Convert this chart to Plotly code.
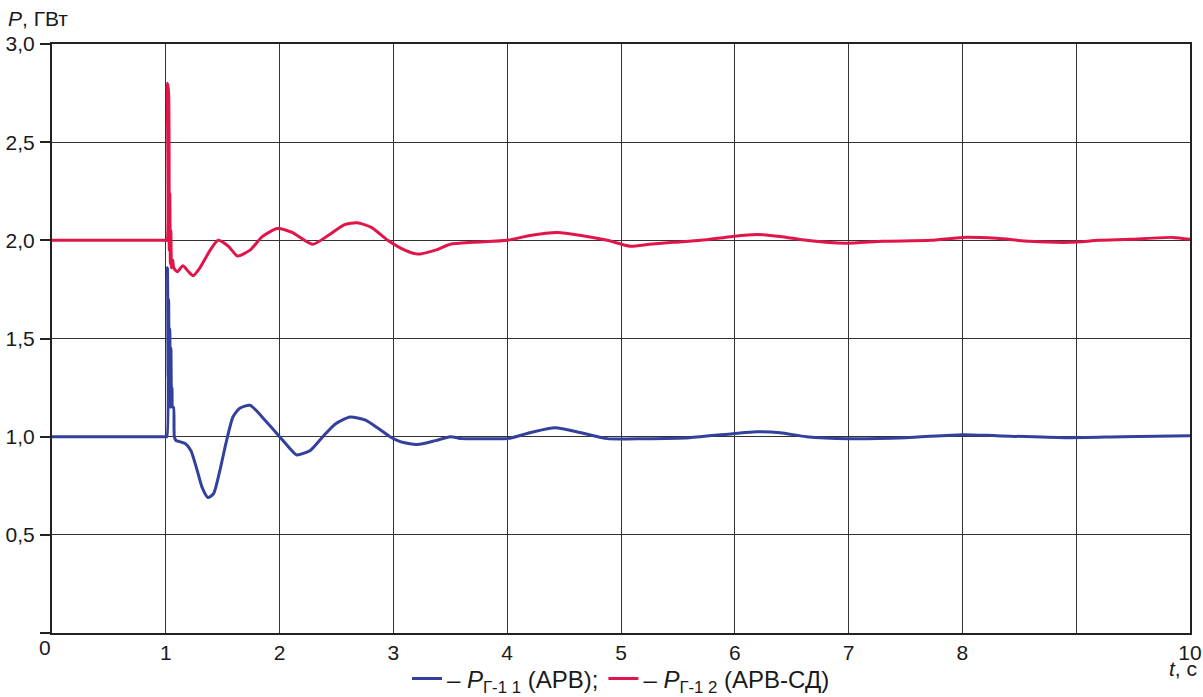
import plotly.graph_objects as go

# Time (s) and power (GW) for the two generators
t_blue = [0.0, 1.0, 1.01, 1.015, 1.02, 1.025, 1.03, 1.035, 1.04, 1.045, 1.05, 1.055, 1.06, 1.068,
          1.075, 1.09, 1.12, 1.17, 1.22, 1.27, 1.32, 1.37, 1.42, 1.476, 1.53, 1.59, 1.65, 1.74,
          1.87, 2.0, 2.09, 2.15, 2.27, 2.38, 2.49, 2.62, 2.75, 2.86, 2.97, 3.06, 3.21, 3.37, 3.5,
          3.6, 3.8, 4.0, 4.2, 4.42, 4.65, 4.88, 5.2, 5.6, 5.98, 6.19, 6.4, 6.63, 7.0, 7.5, 8.0,
          8.3, 8.9, 9.4, 10.0]
p_blue = [1.0, 1.0, 1.0, 1.86, 1.3, 1.7, 1.2, 1.55, 1.15, 1.45, 1.16, 1.25, 1.15, 1.15,
          1.0, 0.98, 0.975, 0.965, 0.93, 0.84, 0.74, 0.69, 0.71, 0.83, 0.97, 1.10, 1.145, 1.16,
          1.085, 1.0, 0.94, 0.907, 0.93, 1.0, 1.065, 1.10, 1.085, 1.045, 1.0, 0.975, 0.96, 0.98, 1.0,
          0.99, 0.99, 0.99, 1.02, 1.045, 1.02, 0.99, 0.99, 0.995, 1.015, 1.025, 1.02, 1.0, 0.99, 0.995, 1.01,
          1.005, 0.995, 1.0, 1.005]

t_red = [0.0, 1.0, 1.01, 1.015, 1.025, 1.03, 1.035, 1.04, 1.045, 1.05, 1.06, 1.07, 1.10, 1.15,
         1.2, 1.24, 1.30, 1.39, 1.46, 1.55, 1.63, 1.74, 1.85, 1.98, 2.11, 2.29, 2.44, 2.57, 2.68,
         2.81, 2.95, 3.10, 3.21, 3.37, 3.5, 3.7, 4.0, 4.2, 4.44, 4.65, 4.88, 5.08, 5.25,
         5.46, 5.7, 5.98, 6.19, 6.4, 6.63, 6.97, 7.3, 7.72, 8.0, 8.3, 8.59, 8.95, 9.2, 9.47, 9.85, 10.0]
p_red = [2.0, 2.0, 2.0, 2.80, 2.75, 1.95, 2.24, 1.88, 2.05, 1.86, 1.9, 1.86, 1.84, 1.87,
         1.84, 1.82, 1.86, 1.95, 2.0, 1.97, 1.92, 1.95, 2.02, 2.06, 2.04, 1.98, 2.03, 2.08, 2.09,
         2.065, 2.0, 1.95, 1.93, 1.95, 1.98, 1.99, 2.0, 2.025, 2.04, 2.025, 2.0, 1.97, 1.98,
         1.99, 2.0, 2.02, 2.03, 2.02, 2.0, 1.985, 1.995, 2.0, 2.015, 2.01, 1.995, 1.99, 2.0, 2.005, 2.015, 2.005]

x_tickvals = [0, 1, 2, 3, 4, 5, 6, 7, 8, 9, 10]
x_ticktext = ["", "1", "2", "3", "4", "5", "6", "7", "8", "", "10"]
y_tickvals = [0, 0.5, 1.0, 1.5, 2.0, 2.5, 3.0]
y_ticktext = ["", "0,5", "1,0", "1,5", "2,0", "2,5", "3,0"]

FONT = "Liberation Sans, Arial, sans-serif"

fig = go.Figure()
fig.add_trace(go.Scatter(x=t_blue, y=p_blue, mode="lines",
                         line=dict(color="#33409c", width=3, shape="spline", smoothing=0.6),
                         name="– <i>P</i><sub>Г-1 1</sub> (АРВ);"))
fig.add_trace(go.Scatter(x=t_red, y=p_red, mode="lines",
                         line=dict(color="#e0164a", width=3, shape="spline", smoothing=0.6),
                         name="– <i>P</i><sub>Г-1 2</sub> (АРВ-СД)"))

fig.update_layout(
    width=1203, height=697,
    margin=dict(l=52, r=13, t=44, b=64, autoexpand=False),
    paper_bgcolor="white", plot_bgcolor="white",
    font=dict(family=FONT, size=21, color="#1a1a1a"),
    showlegend=True,
    legend=dict(orientation="h", x=0.5, xanchor="center", y=-0.078, yanchor="middle",
                font=dict(size=24), itemwidth=30, tracegroupgap=0, bgcolor="rgba(0,0,0,0)"),
    xaxis=dict(range=[0, 10], tickvals=x_tickvals, ticktext=x_ticktext, ticks="",
               showgrid=True, gridcolor="#333333", gridwidth=1,
               showline=True, linecolor="#222222", linewidth=2, mirror=True,
               zeroline=False, ticklabelstandoff=0, automargin=False),
    yaxis=dict(range=[0, 3], tickvals=y_tickvals, ticktext=y_ticktext, ticks="outside",
               ticklen=10, tickwidth=1.5, tickcolor="#222222",
               showgrid=True, gridcolor="#333333", gridwidth=1,
               showline=True, linecolor="#222222", linewidth=2, mirror=True,
               zeroline=False, ticklabelstandoff=1, automargin=False),
    annotations=[
        dict(text="<i>P</i>, ГВт", xref="paper", yref="paper", x=0, y=1,
             xanchor="left", yanchor="bottom", xshift=-46, yshift=12, showarrow=False,
             font=dict(size=21)),
        dict(text="0", xref="paper", yref="paper", x=0, y=0,
             xanchor="center", yanchor="top", xshift=-7, yshift=-1, showarrow=False,
             font=dict(size=21)),
        dict(text="<i>t</i>, c", xref="paper", yref="paper", x=1, y=0,
             xanchor="right", yanchor="top", xshift=9, yshift=-22, showarrow=False,
             font=dict(size=21)),
    ],
)

# Remove the default 8px page margin so the 1203x697 figure fills the window exactly
fig.write_html("out.html",
               config={"displayModeBar": False},
               post_script="document.body.style.margin='0';"
                           "document.documentElement.style.overflow='hidden';")
